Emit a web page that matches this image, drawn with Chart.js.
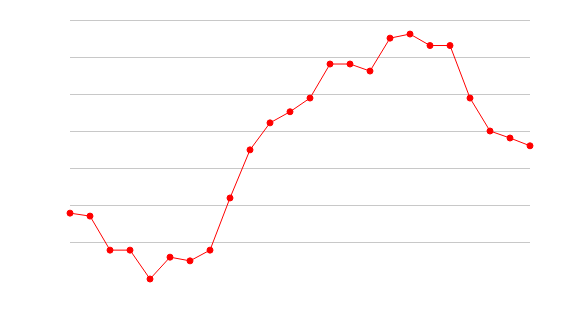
<!DOCTYPE html>
<html>
<head>
<meta charset="utf-8">
<script src="https://cdn.jsdelivr.net/npm/chart.js@4/dist/chart.umd.min.js"></script>
<style>
  html, body { margin: 0; padding: 0; background: #fff; }
  #wrap { width: 570px; height: 320px; }
</style>
</head>
<body>
<div id="wrap"><canvas id="chart" width="570" height="320"></canvas></div>
<script>
// data
const labels = ["1", "2", "3", "4", "5", "6", "7", "8", "9", "10", "11", "12",
  "13", "14", "15", "16", "17", "18", "19", "20", "21", "22", "23", "24"];
const values = [1.78, 1.70, 0.78, 0.78, 0.0, 0.59, 0.49, 0.78, 2.19, 3.49, 4.22, 4.52,
  4.89, 5.81, 5.81, 5.62, 6.51, 6.62, 6.31, 6.31, 4.89, 4.0, 3.81, 3.60];
const yMin = 0;
const yMax = 7;

const ctx = document.querySelector("#chart").getContext("2d");

new Chart(ctx, {
  type: "line",
  data: {
    labels: labels,
    datasets: [{
      data: values,
      borderColor: "#ff0000",
      backgroundColor: "#ff0000",
      borderWidth: 1,
      pointRadius: 3,
      pointBorderWidth: 1,
      pointBackgroundColor: "#ff0000",
      pointBorderColor: "#ff0000",
      tension: 0,
      fill: false,
      clip: false
    }]
  },
  options: {
    responsive: false,
    animation: false,
    layout: {
      padding: { left: 70, right: 40, top: 20, bottom: 41 }
    },
    plugins: {
      legend: { display: false },
      tooltip: { enabled: false }
    },
    scales: {
      x: {
        offset: false,
        ticks: { display: false },
        grid: { display: false, drawTicks: false },
        border: { display: false }
      },
      y: {
        min: yMin,
        max: yMax,
        ticks: { display: false, stepSize: 1 },
        grid: {
          drawTicks: false,
          color: (c) => c.tick && c.tick.value === yMin ? "rgba(0,0,0,0)" : "#c8c8c8",
          lineWidth: 1
        },
        border: { display: false }
      }
    }
  }
});
</script>
</body>
</html>
